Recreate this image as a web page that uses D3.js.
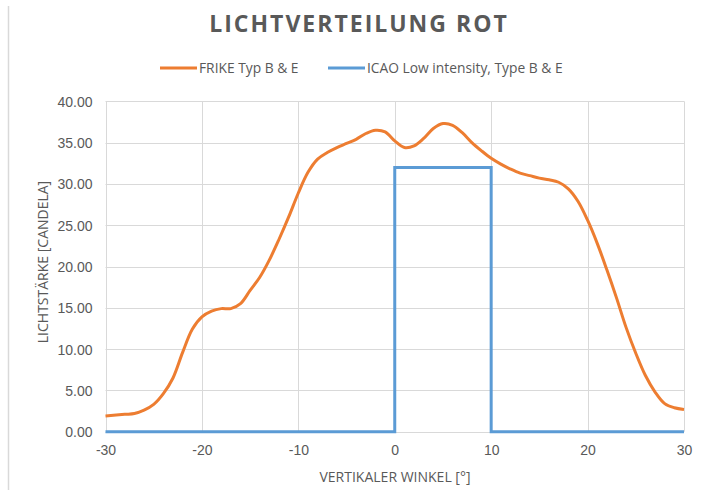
<!DOCTYPE html>
<html><head><meta charset="utf-8">
<script src="https://cdn.jsdelivr.net/npm/d3@7"></script>
<style>
html,body{margin:0;padding:0;background:#fff;}
svg{display:block;font-family:"Open Sans","Liberation Sans",sans-serif;}
</style></head>
<body><svg id="c" width="703" height="490"></svg>
<script>
const title = "LICHTVERTEILUNG ROT";
const xTitle = "VERTIKALER WINKEL [°]";
const yTitle = "LICHTSTÄRKE [CANDELA]";
const seriesNames = ["FRIKE Typ B & E", "ICAO Low intensity, Type B & E"];
const seriesColors = ["#ED7D31", "#5B9BD5"];
const xTicks = [-30, -20, -10, 0, 10, 20, 30];
const yTicks = [0, 5, 10, 15, 20, 25, 30, 35, 40];

const frikeAngle = [-30,-28,-27,-26,-25,-24,-23,-22,-21,-20,-19,-18,-17,-16,-15,-14,-13,-12,-11,-10,-9,-8,-7,-6,-5,-4,-3,-2,-1,0,1,2,3,4,5,6,7,8,9,10,11,12,13,14,15,16,17,18,19,20,21,22,23,24,25,26,27,28,29,30];
const frikeValue = [1.9,2.1,2.2,2.6,3.3,4.6,6.5,9.6,12.4,13.9,14.6,14.9,14.9,15.5,17.1,18.7,20.8,23.3,26.0,28.9,31.4,33.0,33.8,34.4,34.9,35.4,36.1,36.5,36.3,35.2,34.4,34.6,35.5,36.7,37.3,37.1,36.2,35.0,34.0,33.1,32.4,31.8,31.3,31.0,30.7,30.5,30.2,29.4,27.9,25.6,22.8,19.6,16.2,12.6,9.5,6.8,4.8,3.4,2.9,2.7];

const icaoAngle = [-30, 0, 0, 10, 10, 30];
const icaoValue = [0, 0, 32, 32, 0, 0];

const svg = d3.select("#c");
const x = d3.scaleLinear().domain([-30, 30]).range([105.5, 684]);
const y = d3.scaleLinear().domain([0, 40]).range([431.7, 101.3]);

// outer border line (left)
svg.append("line").attr("x1", 8.5).attr("x2", 8.5).attr("y1", 6).attr("y2", 490)
  .attr("stroke", "#d9d9d9").attr("stroke-width", 1.5);

// grid
const g = svg.append("g");
g.selectAll("line.h").data(yTicks).join("line")
  .attr("x1", x(-30)).attr("x2", x(30))
  .attr("y1", d => Math.round(y(d)) + 0.5).attr("y2", d => Math.round(y(d)) + 0.5)
  .attr("stroke", "#d9d9d9").attr("stroke-width", 1);
g.selectAll("line.v").data(xTicks).join("line")
  .attr("y1", y(40)).attr("y2", y(0))
  .attr("x1", d => Math.round(x(d)) + 0.5).attr("x2", d => Math.round(x(d)) + 0.5)
  .attr("stroke", "#d9d9d9").attr("stroke-width", 1);

// axes (labels only)
const yAxis = d3.axisLeft(y).tickValues(yTicks).tickFormat(d3.format(".2f")).tickSize(0).tickPadding(13);
const ya = svg.append("g").attr("transform", `translate(${x(-30)},0)`).call(yAxis);
ya.select(".domain").remove();
ya.selectAll("text").attr("fill", "#595959").style("font-size", "14px").attr("dy", "0.35em");

const xAxis = d3.axisBottom(x).tickValues(xTicks).tickFormat(d => String(d)).tickSize(0).tickPadding(13);
const xa = svg.append("g").attr("transform", `translate(0,${y(0)})`).call(xAxis);
xa.select(".domain").remove();
xa.selectAll("text").attr("fill", "#595959").style("font-size", "14px");

// series
const icao = icaoAngle.map((a, i) => [a, icaoValue[i]]);
svg.append("path").datum(icao)
  .attr("d", d3.line().x(d => x(d[0])).y(d => y(d[1])))
  .attr("fill", "none").attr("stroke", seriesColors[1]).attr("stroke-width", 3);

const frike = frikeAngle.map((a, i) => [a, frikeValue[i]]);
svg.append("path").datum(frike)
  .attr("d", d3.line().curve(d3.curveCatmullRom.alpha(0.5)).x(d => x(d[0])).y(d => y(d[1])))
  .attr("fill", "none").attr("stroke", seriesColors[0]).attr("stroke-width", 3)
  .attr("stroke-linejoin", "round");

// title
svg.append("text").attr("x", 359).attr("y", 32).attr("text-anchor", "middle")
  .attr("fill", "#595959").style("font-size", "23px").style("font-weight", "bold")
  .style("letter-spacing", "2px").text(title);

// legend
const legX = [160, 328];
seriesNames.forEach((n, i) => {
  svg.append("line").attr("x1", legX[i]).attr("x2", legX[i] + 37)
    .attr("y1", 68).attr("y2", 68).attr("stroke", seriesColors[i]).attr("stroke-width", 3);
  svg.append("text").attr("x", legX[i] + 39).attr("y", 73)
    .attr("fill", "#595959").style("font-size", "13.8px").text(n);
});

// axis titles
svg.append("text").attr("x", 395).attr("y", 482).attr("text-anchor", "middle")
  .attr("fill", "#595959").style("font-size", "14px").text(xTitle);
svg.append("text").attr("transform", "translate(48,262) rotate(-90)").attr("text-anchor", "middle")
  .attr("fill", "#595959").style("font-size", "14px").text(yTitle);
</script></body></html>
